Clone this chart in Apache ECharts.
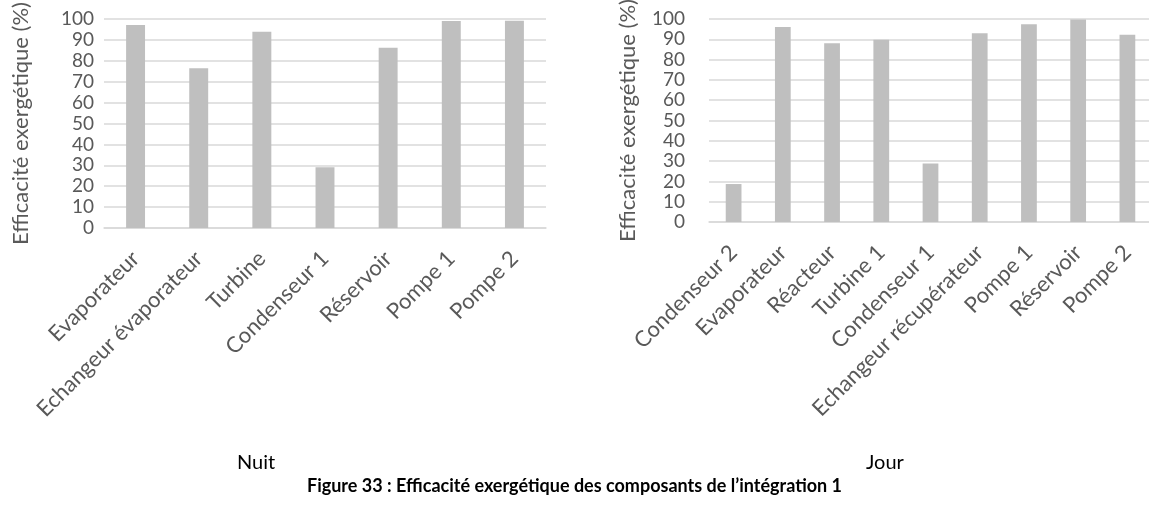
<!DOCTYPE html>
<html>
<head>
<meta charset="utf-8">
<script src="https://cdn.jsdelivr.net/npm/echarts@6/dist/echarts.min.js"></script>
<style>
  html, body { margin: 0; padding: 0; background: #ffffff; }
  #chart { width: 1149px; height: 508px; }
</style>
</head>
<body>
<div id="chart"></div>
<script>
// Exergy efficiency per component, night operation
const nuitCategories = ['Evaporateur', 'Echangeur évaporateur', 'Turbine', 'Condenseur 1', 'Réservoir', 'Pompe 1', 'Pompe 2'];
const nuitValues = [97.1, 76.4, 93.9, 29.1, 86.3, 99.0, 99.2];

// Exergy efficiency per component, day operation
const jourCategories = ['Condenseur 2', 'Evaporateur', 'Réacteur', 'Turbine 1', 'Condenseur 1', 'Echangeur récupérateur', 'Pompe 1', 'Réservoir', 'Pompe 2'];
const jourValues = [18.7, 96.1, 88.0, 89.8, 28.8, 93.0, 97.4, 99.8, 92.3];

// Shared value axis
const yMin = 0;
const yMax = 100;
const yStep = 10;
const yAxisTitle = 'Efficacité exergétique (%)';

const panelTitles = ['Nuit', 'Jour'];
const caption = 'Figure 33 : Efficacité exergétique des composants de l’intégration 1';

const FONT = 'Lato, "Open Sans", sans-serif';
const TEXT = '#595959';
const GRID_LINE = '#d9d9d9';
const BAR = '#bfbfbf';

function valueAxis(gridIndex, gap, labelMargin) {
  return {
    type: 'value',
    gridIndex: gridIndex,
    min: yMin,
    max: yMax,
    interval: yStep,
    name: yAxisTitle,
    nameLocation: 'middle',
    nameGap: gap,
    nameTextStyle: { color: TEXT, fontFamily: FONT, fontSize: 22 },
    axisLine: { show: false },
    axisTick: { show: false },
    axisLabel: { color: TEXT, fontFamily: FONT, fontSize: 19, margin: labelMargin },
    splitLine: { lineStyle: { color: GRID_LINE, width: 1.5 } }
  };
}

function categoryAxis(gridIndex, data) {
  return {
    type: 'category',
    gridIndex: gridIndex,
    data: data,
    axisLine: { lineStyle: { color: GRID_LINE, width: 1.5 } },
    axisTick: { show: false },
    axisLabel: {
      color: TEXT, fontFamily: FONT, fontSize: 22,
      rotate: 45, margin: 27, interval: 0
    }
  };
}

const chart = echarts.init(document.getElementById('chart'), null, { renderer: 'canvas' });

chart.setOption({
  animation: false,
  backgroundColor: '#ffffff',
  grid: [
    { left: 104, top: 19, width: 442, height: 209, containLabel: false, outerBoundsMode: 'none' },
    { left: 709, top: 19, width: 443, height: 203, containLabel: false, outerBoundsMode: 'none' }
  ],
  xAxis: [categoryAxis(0, nuitCategories), categoryAxis(1, jourCategories)],
  yAxis: [valueAxis(0, 72, 10), valueAxis(1, 70, 24)],
  series: [
    {
      type: 'bar', xAxisIndex: 0, yAxisIndex: 0,
      data: nuitValues, barWidth: '30%',
      itemStyle: { color: BAR }
    },
    {
      type: 'bar', xAxisIndex: 1, yAxisIndex: 1,
      data: jourValues, barWidth: '32%',
      itemStyle: { color: BAR }
    }
  ],
  graphic: [
    {
      type: 'text', left: 237, top: 453,
      style: { text: panelTitles[0], fill: '#000000', font: '20px ' + FONT }
    },
    {
      type: 'text', left: 866, top: 453,
      style: { text: panelTitles[1], fill: '#000000', font: '20px ' + FONT }
    },
    {
      type: 'text', left: 'center', top: 477,
      style: { text: caption, fill: '#000000', font: 'bold 18px ' + FONT }
    }
  ]
});
</script>
</body>
</html>
